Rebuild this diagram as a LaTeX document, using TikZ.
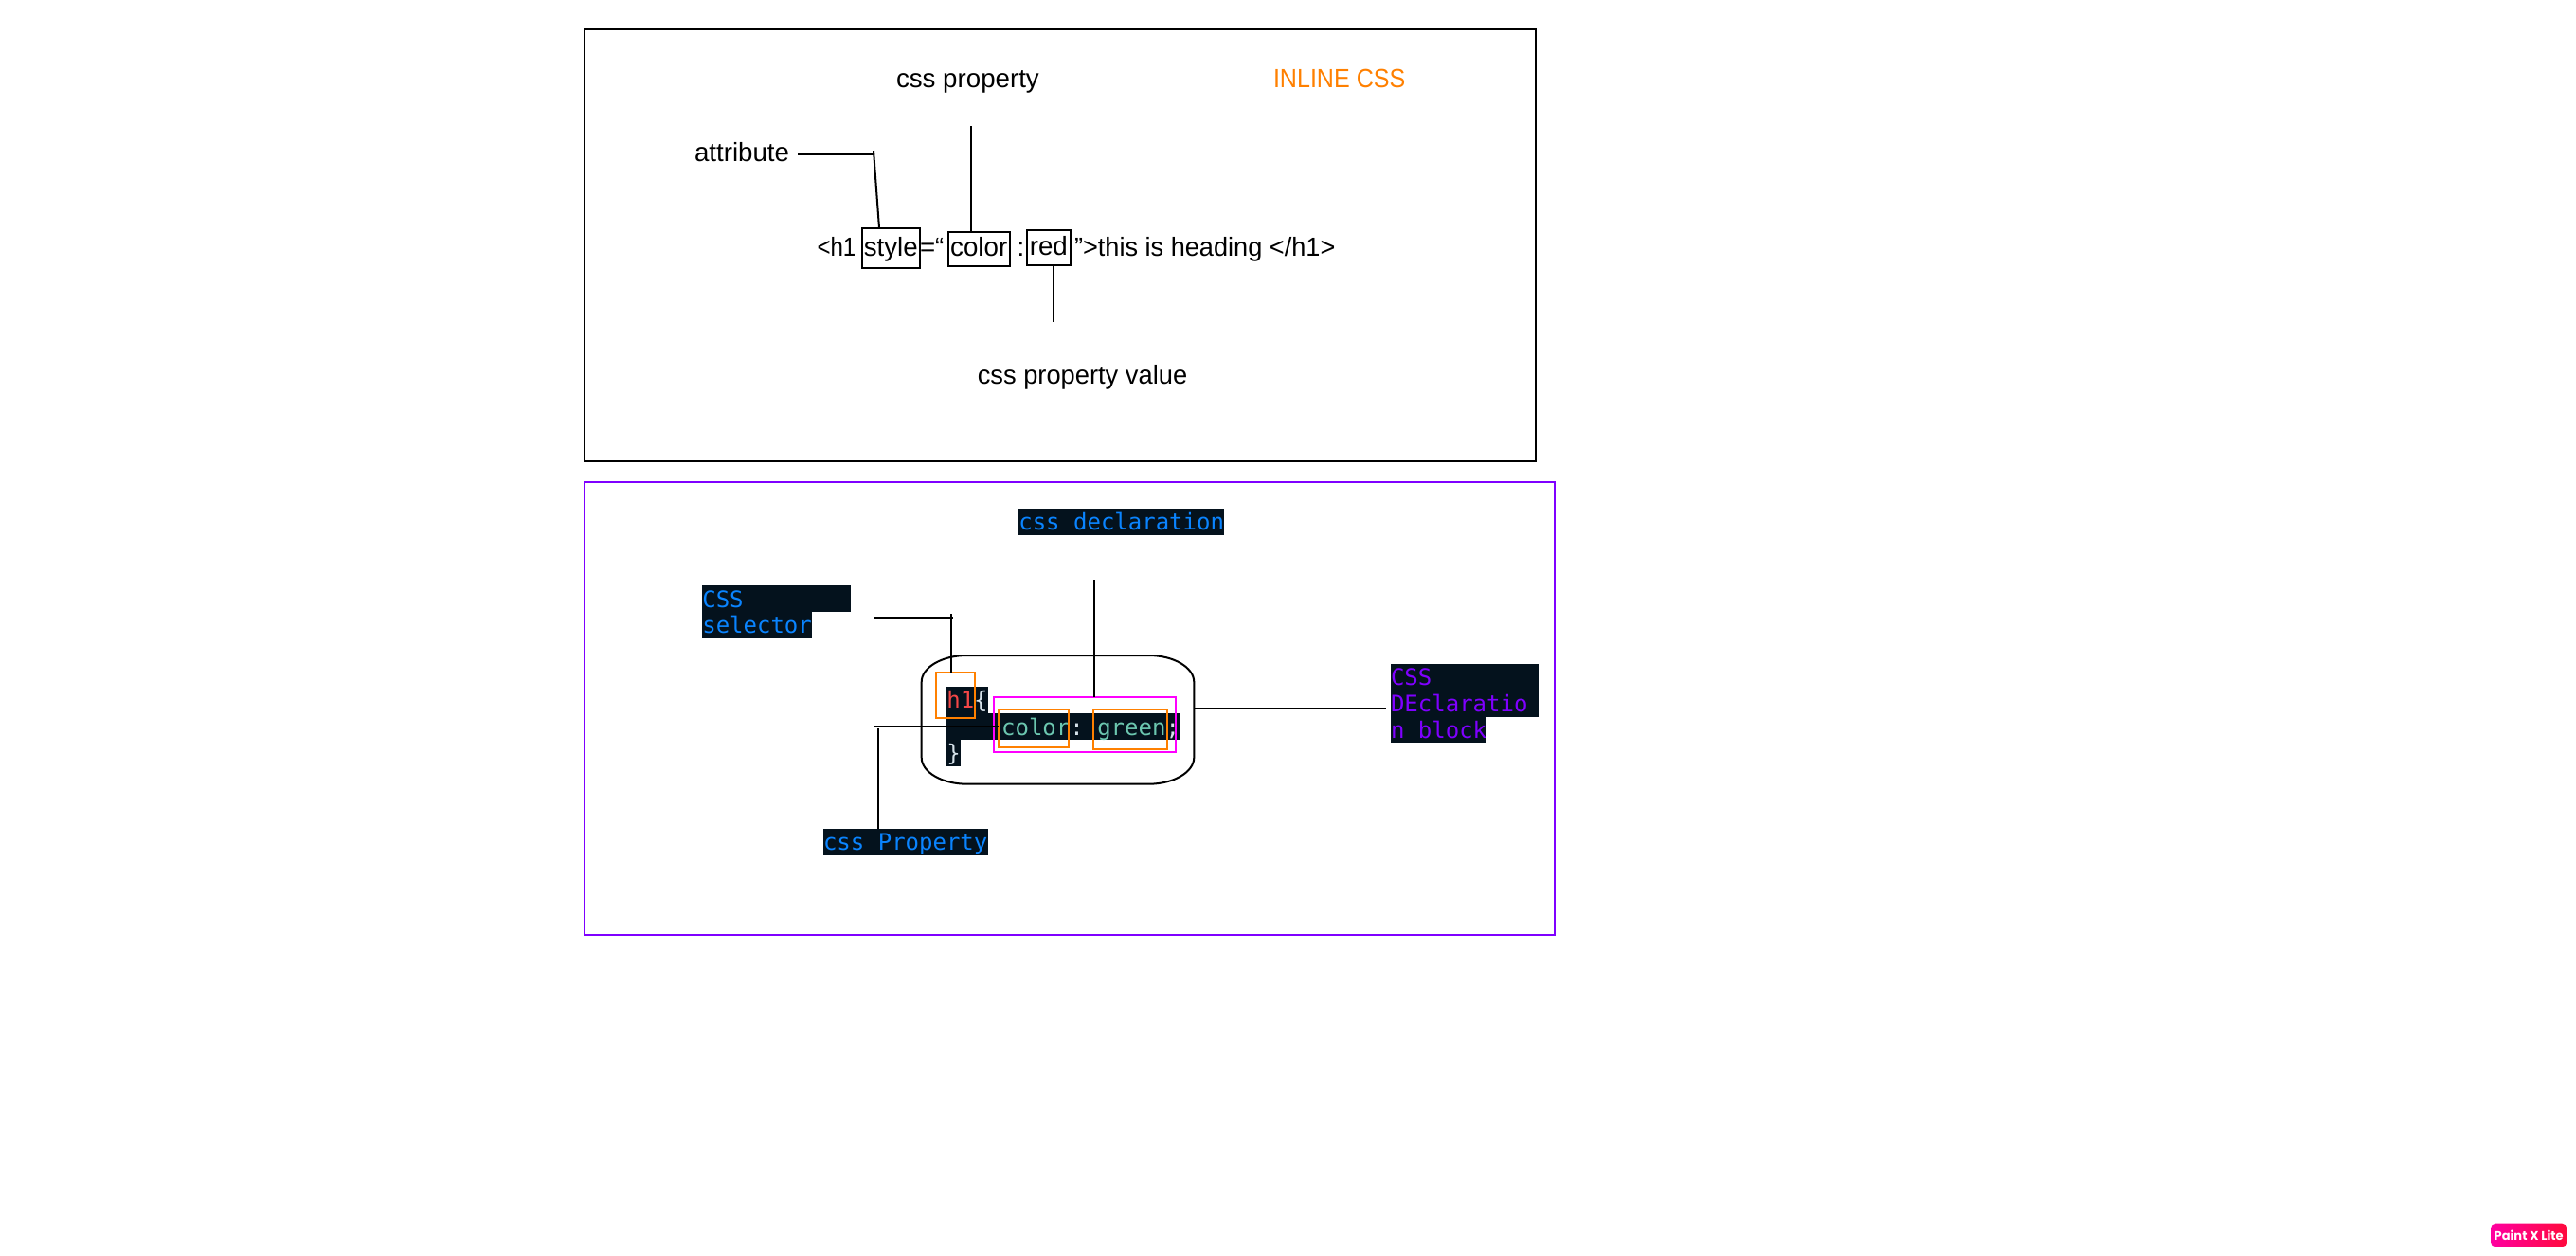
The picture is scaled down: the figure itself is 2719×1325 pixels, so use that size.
\documentclass[tikz,border=0pt]{standalone}
\usepackage{fontspec}
\setmainfont{Liberation Sans}
\newfontfamily\codefont{DejaVu Sans Mono}
\newfontfamily\badgefont{Poppins}
\newcommand{\codetype}{\codefont\fontsize{24}{28}\selectfont}
\newcommand{\monospc}{\hspace*{14.448pt}}
\definecolor{frameblack}{HTML}{000000}
\definecolor{framepurple}{HTML}{7F00FF}
\definecolor{inlineorange}{HTML}{FF8000}
\definecolor{boxmagenta}{HTML}{FF00FF}
\definecolor{codebg}{HTML}{04121D}
\definecolor{codeblue}{HTML}{0A84FF}
\definecolor{codepurple}{HTML}{7F00FF}
\definecolor{codered}{HTML}{F44747}
\definecolor{codeteal}{HTML}{6CC7B0}
\definecolor{codelight}{HTML}{D6E2EA}
\definecolor{badgeleft}{HTML}{FF00A0}
\definecolor{badgeright}{HTML}{FF0A3C}
\tikzset{
  x=1pt,y=-1pt,
  frame/.style={draw=#1,line width=2pt,inner sep=0,outer sep=0,anchor=north west},
  link/.style={draw=black,line width=2.2pt},
  thinlink/.style={draw=black,line width=2pt},
  label/.style={inner sep=0,outer sep=0,anchor=base west,font=\fontsize{27.7}{32}\selectfont},
  boxed/.style={draw=black,line width=2pt,inner sep=0,outer sep=0,text height=18pt,text depth=2pt,font=\fontsize{27.7}{32}\selectfont},
  mark/.style={draw=#1,line width=2pt,inner sep=0,outer sep=0,anchor=north west},
  code/.style={fill=codebg,text=#1,inner sep=0,outer sep=0,anchor=north west,
    text height=22.7pt,text depth=5pt,font=\codetype},
}
\begin{document}
\begin{tikzpicture}
\useasboundingbox (0,0) rectangle (2719,1325);
\fill[white] (0,0) rectangle (2719,1325);

% --- top panel
\node[frame=black,minimum width=1004pt,minimum height=456pt] (panelA) at (617,31) {};
\node[label] (cssprop) at (946,92) {css property};
\node[label,text=inlineorange] (inline) at (1344,92) {\scalebox{.905}[1]{INLINE CSS}};
\node[label] (attr) at (733,170) {attribute};
\node[label] (propval) at (1031.8,405.5) {\scalebox{.985}[1]{css property value}};

\node[label] (open) at (862.5,270) {\scalebox{.87}[1]{<h1}};
\node[boxed,minimum width=61.3pt,minimum height=42.6pt] (styleBox) at (940.25,262) {style};
\node[label] (eq) at (971,270) {=“};
\node[boxed,minimum width=65.1pt,minimum height=36.3pt,text height=17pt] (colorBox) at (1033.25,262.85) {color};
\node[label] (colon) at (1073.5,270) {:};
\node[boxed,minimum width=45.7pt,minimum height=36.7pt,text height=18.6pt] (redBox) at (1106.85,261.65) {red};
\node[label] (close) at (1134,270) {\scalebox{.98}[1]{”>this is heading </h1>}};

\coordinate (attrStart) at (842,162.7);
\coordinate (attrElbow) at (922,162.7);
\coordinate (attrTick) at (922,159);
\coordinate (attrFoot) at (928,240);
\coordinate (propTop) at (1024.5,133);
\coordinate (valEnd) at (1112,340);
\draw[link] (attrStart) -- (attrElbow);
\draw[thinlink] (attrTick) -- (attrFoot |- styleBox.north);
\draw[thinlink] (propTop) -- (propTop |- colorBox.north);
\draw[thinlink] (valEnd |- redBox.south) -- (valEnd);

% --- bottom panel
\node[frame=framepurple,minimum width=1024pt,minimum height=478pt] (panelB) at (617,509) {};
\node[code=codeblue,text width=217pt] (decl) at (1075.3,537) {\mbox{css\monospc declaration}};
\node[code=codeblue,text width=156.4pt] (selA) at (741.3,618.3) {CSS};
\node[code=codeblue,text width=115.4pt] (selB) at (741.3,646) {\mbox{selector}};
\node[code=codeblue,text width=173.5pt] (prop) at (869,875) {\mbox{css\monospc Property}};
\node[code=codepurple,text width=155.7pt] (blkA) at (1468,701) {CSS};
\node[code=codepurple,text width=155.7pt] (blkB) at (1468,729) {\mbox{DEclaratio}};
\node[code=codepurple,text width=101pt] (blkC) at (1468,756.7) {\mbox{n\monospc block}};

% rule block
\node[inner sep=0,outer sep=0,anchor=north west,minimum width=287.6pt,minimum height=135.7pt] (block) at (972.7,692) {};
\draw[line width=2pt,black] ([xshift=48pt]block.north west) -- ([xshift=-48pt]block.north east)
  arc[start angle=90,end angle=0,x radius=48pt,y radius=28pt]
  -- ([xshift=0pt,yshift=28pt]block.south east)
  arc[start angle=0,end angle=-90,x radius=48pt,y radius=28pt]
  -- ([xshift=48pt]block.south west)
  arc[start angle=-90,end angle=-180,x radius=48pt,y radius=28pt]
  -- ([yshift=-28pt]block.north west)
  arc[start angle=180,end angle=90,x radius=48pt,y radius=28pt] -- cycle;

\node[code=codered,text width=43.4pt] (codeA) at (999.3,725) {\mbox{h1{\color{codelight}\{}}};
\node[code=codeteal,text width=245.7pt] (codeB) at (999.3,753.3) {\mbox{\hspace*{57.8pt}color{\color{codelight}:}\monospc green{\color{codelight};}}};
\node[code=codelight,text width=14.7pt] (codeC) at (999.3,781) {\}};

\node[mark=boxmagenta,minimum width=192.3pt,minimum height=58pt] (declBox) at (1048.7,736) {};
\node[mark=inlineorange,minimum width=41pt,minimum height=48pt] (selMark) at (988,710) {};
\node[mark=inlineorange,minimum width=74.3pt,minimum height=40.3pt] (propMark) at (1053.7,748.7) {};
\node[mark=inlineorange,minimum width=78pt,minimum height=42.3pt] (valMark) at (1154,748.7) {};

\coordinate (selStart) at (923,651.7);
\coordinate (selElbow) at (1005.7,651.7);
\coordinate (selTick) at (1003.6,648);
\coordinate (declTop) at (1154.5,612.3);
\coordinate (propLeft) at (922,767);
\coordinate (propDrop) at (927.3,769);
\coordinate (blkEnd) at (1463.4,748);
\draw[link] (selStart) -- (selElbow);
\draw[thinlink] (selTick) -- (selTick |- selMark.north);
\draw[thinlink] (declTop) -- (declTop |- declBox.north);
\draw[link] (propLeft) -- (propLeft -| propMark.west);
\draw[thinlink] (propDrop) -- (propDrop |- prop.north);
\draw[link] (block.east |- blkEnd) -- (blkEnd);

% --- watermark
\node[rounded corners=5pt,left color=badgeleft,right color=badgeright,text=white,inner sep=0,outer sep=0,
  minimum width=80.3pt,minimum height=24.6pt,
  font=\badgefont\bfseries\fontsize{13}{15}\selectfont] (badge) at (2669.15,1304) {Paint X Lite};
\end{tikzpicture}
\end{document}
